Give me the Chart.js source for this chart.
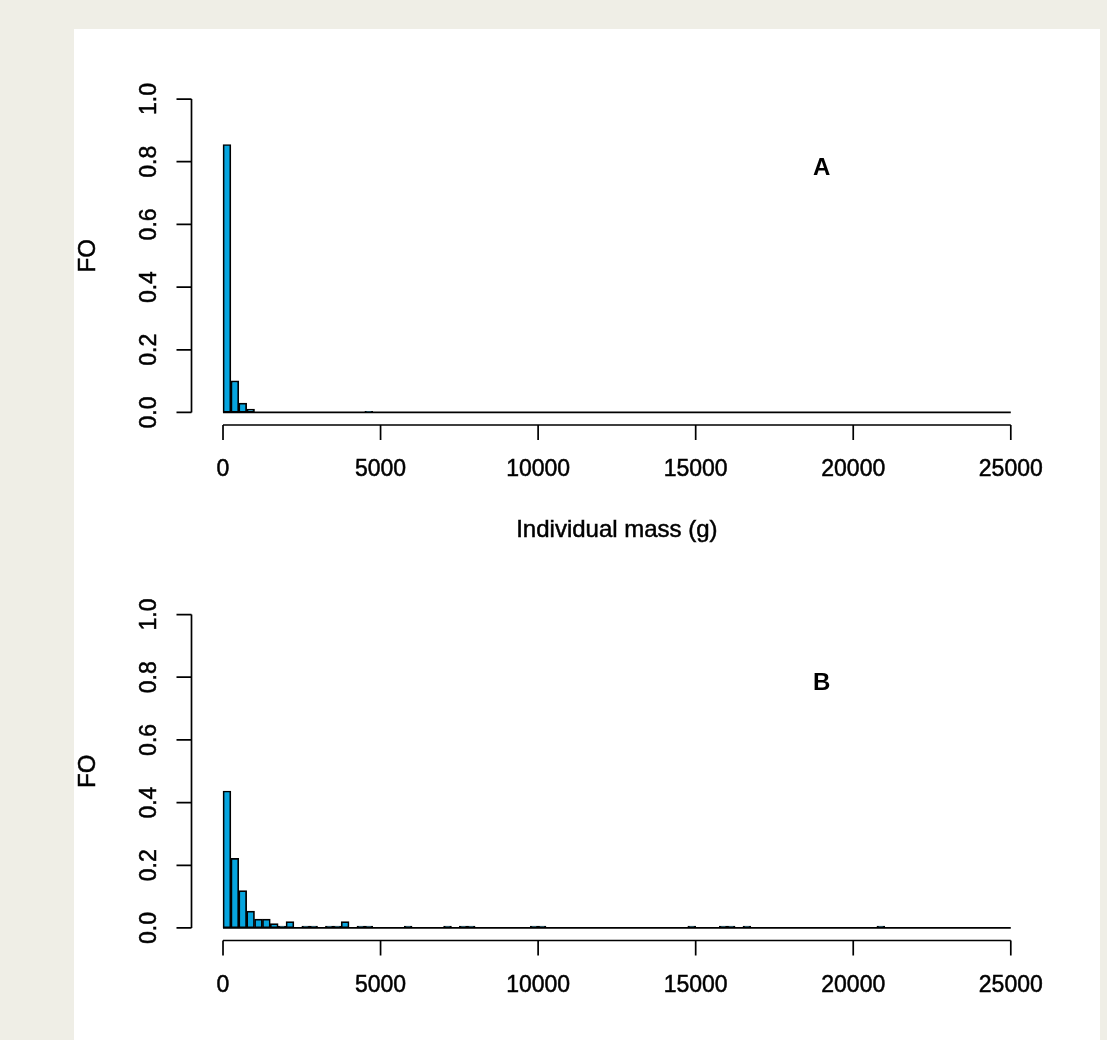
<!DOCTYPE html>
<html>
<head>
<meta charset="utf-8">
<script src="https://cdn.jsdelivr.net/npm/chart.js@4.4.1/dist/chart.umd.min.js"></script>
<style>
  html, body { margin: 0; padding: 0; background: #efeee6; width: 1107px; height: 1040px; overflow: hidden; }
  #panel { position: absolute; left: 74px; top: 29px; width: 1026px; height: 1011px; background: #ffffff; }
  canvas { position: absolute; left: 0; }
  #cA { top: 0; }
  #cB { top: 560px; }
</style>
</head>
<body>
<div id="panel"></div>
<canvas id="cA" width="1107" height="560"></canvas>
<canvas id="cB" width="1107" height="480"></canvas>
<script>
// ---- data (bins of 250 g; only non-empty bins listed) ----
const binWidth = 250;
const binStartsA = [0, 250, 500, 750, 4500];
const foA        = [0.855, 0.101, 0.030, 0.011, 0.004];

const binStartsB = [0, 250, 500, 750, 1000, 1250, 1500, 1750, 2000, 2500, 2750, 3250, 3500, 3750,
                    4250, 4500, 5750, 7000, 7500, 7750, 9750, 10000, 14750, 15750, 16000, 16500, 20750];
const foB        = [0.437, 0.222, 0.119, 0.054, 0.028, 0.028, 0.014, 0.006, 0.020, 0.006, 0.006, 0.006, 0.006, 0.020,
                    0.006, 0.006, 0.006, 0.006, 0.006, 0.006, 0.006, 0.006, 0.006, 0.006, 0.006, 0.006, 0.006];

const xTicks = [0, 5000, 10000, 15000, 20000, 25000];
const yTicks = [0.0, 0.2, 0.4, 0.6, 0.8, 1.0];
const xRange = [0, 25000];
const yRange = [0, 1];
const xLabel = 'Individual mass (g)';
const yLabel = 'FO';
const panelLabels = ['A', 'B'];
const panelLabelPos = [19000, 0.78];

// ---- styles ----
const barFill = '#06a5df';
const ink = '#000000';
const FONT = '"Liberation Sans", Arial, Helvetica, sans-serif';

function heavyText(ctx, txt, x, y) {
  ctx.fillText(txt, x, y);
  ctx.strokeText(txt, x, y);
}

// R-style axes drawn from the chart scales
const rAxes = {
  id: 'rAxes',
  afterDraw(chart, args, opts) {
    const ctx = chart.ctx, xs = chart.scales.x, ys = chart.scales.y, ca = chart.chartArea;
    ctx.save();
    ctx.strokeStyle = '#000';
    ctx.lineWidth = 1.7;
    ctx.fillStyle = ink;
    // x axis
    const yAx = ca.bottom;
    ctx.beginPath();
    ctx.moveTo(xs.getPixelForValue(xTicks[0]), yAx);
    ctx.lineTo(xs.getPixelForValue(xTicks[xTicks.length - 1]), yAx);
    xTicks.forEach(v => { const p = xs.getPixelForValue(v); ctx.moveTo(p, yAx); ctx.lineTo(p, yAx + 15); });
    // y axis
    const xAx = ca.left;
    ctx.moveTo(xAx, ys.getPixelForValue(yTicks[0]));
    ctx.lineTo(xAx, ys.getPixelForValue(yTicks[yTicks.length - 1]));
    yTicks.forEach(v => { const p = ys.getPixelForValue(v); ctx.moveTo(xAx, p); ctx.lineTo(xAx - 15, p); });
    ctx.stroke();

    ctx.lineWidth = 0.5;
    ctx.strokeStyle = ink;
    ctx.font = '23px ' + FONT;
    ctx.textAlign = 'center';
    ctx.textBaseline = 'middle';
    xTicks.forEach(v => heavyText(ctx, String(v), xs.getPixelForValue(v), yAx + 45));
    yTicks.forEach(v => {
      ctx.save();
      ctx.translate(xAx - 42, ys.getPixelForValue(v));
      ctx.rotate(-Math.PI / 2);
      heavyText(ctx, v.toFixed(1), 0, 0);
      ctx.restore();
    });
    // axis titles
    ctx.font = '24px ' + FONT;
    ctx.save();
    ctx.translate(xAx - 103, (ca.top + ca.bottom) / 2);
    ctx.rotate(-Math.PI / 2);
    heavyText(ctx, yLabel, 0, 0);
    ctx.restore();
    if (opts.xTitle) {
      heavyText(ctx, xLabel, (ca.left + ca.right) / 2, yAx + 105);
    }
    // panel label
    ctx.font = 'bold 24px ' + FONT;
    ctx.fillStyle = '#000';
    ctx.fillText(opts.tag, xs.getPixelForValue(panelLabelPos[0]), ys.getPixelForValue(panelLabelPos[1]));
    ctx.restore();
  }
};

function makeChart(id, starts, vals, tag, xTitle, padding) {
  const xPad = (xRange[1] - xRange[0]) * 0.04;
  const yPad = (yRange[1] - yRange[0]) * 0.04;
  return new Chart(document.getElementById(id), {
    type: 'bar',
    data: {
      datasets: [
        {
          type: 'bar',
          data: starts.map((s, i) => ({ x: s + binWidth / 2, y: vals[i] })),
          backgroundColor: barFill,
          borderColor: '#000',
          borderWidth: 1.7,
          borderSkipped: false,
          barPercentage: 1,
          categoryPercentage: 1,
          order: 2
        },
        {
          type: 'line',
          data: [{ x: xRange[0], y: 0 }, { x: xRange[1], y: 0 }],
          borderColor: '#000',
          borderWidth: 1.7,
          pointRadius: 0,
          order: 1
        }
      ]
    },
    options: {
      responsive: false,
      animation: false,
      devicePixelRatio: 1,
      layout: { padding: padding },
      plugins: { legend: { display: false }, tooltip: { enabled: false }, rAxes: { tag: tag, xTitle: xTitle } },
      scales: {
        x: { type: 'linear', display: false, offset: false, min: xRange[0] - xPad, max: xRange[1] + xPad },
        y: { type: 'linear', display: false, min: yRange[0] - yPad, max: yRange[1] + yPad }
      }
    },
    plugins: [rAxes]
  });
}

makeChart('cA', binStartsA, foA, panelLabels[0], true, { left: 191.5, right: 64.7, top: 86.5, bottom: 135 });
makeChart('cB', binStartsB, foB, panelLabels[1], false, { left: 191.5, right: 64.7, top: 42, bottom: 99.5 });
</script>
</body>
</html>
